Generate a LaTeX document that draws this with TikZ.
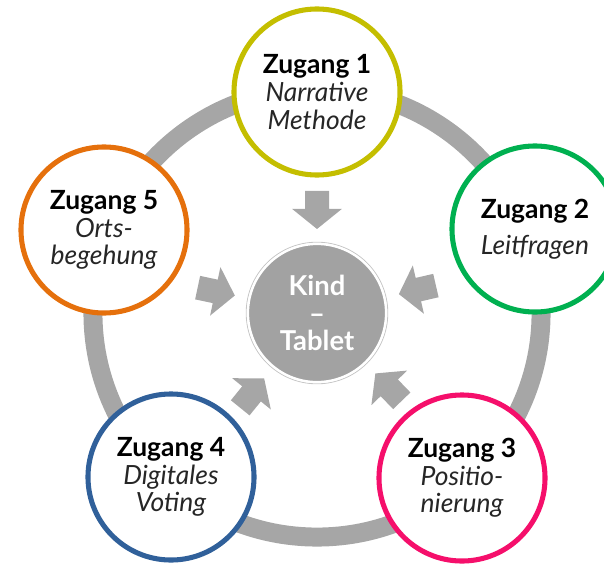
\documentclass[tikz,border=0pt]{standalone}
\usepackage{fontspec}
\setmainfont{Lato}
\usetikzlibrary{calc}
\definecolor{ringgrau}{HTML}{A6A6A6}
\definecolor{kerngrau}{HTML}{A2A2A2}
\definecolor{zgelb}{HTML}{C4BE00}
\definecolor{zgruen}{HTML}{00B050}
\definecolor{zpink}{HTML}{F50F6B}
\definecolor{zblau}{HTML}{30609A}
\definecolor{zorange}{HTML}{E5700C}
\definecolor{textgrau}{HTML}{262626}

\begin{document}
\begin{tikzpicture}[x=0.025cm,y=-0.025cm,
  zugang/.style={circle,line width=3.6pt,fill=white,minimum size=4.15cm,inner sep=0pt,align=center,font=\fontsize{18.8}{19.6}\selectfont},
  kern/.style={circle,fill=kerngrau,draw=white,line width=1.6pt,minimum size=3.45cm,inner sep=0pt,align=center,text=white,font=\bfseries\fontsize{19.5}{19.5}\selectfont}]
  \useasboundingbox (0,0) rectangle (604,565);
  \coordinate (M) at (317,313);
  \coordinate (A) at (317,92);
  \coordinate (B) at (535,229);
  \coordinate (C) at (462,478);
  \coordinate (D) at (171,477);
  \coordinate (E) at (104,230);
  \draw[ringgrau,line width=13.5pt] (M) circle[radius=5.6cm];
  % Pfeile zur Mitte
  \foreach \w in {90,13,-46,-129,168}{
    \fill[ringgrau,shift={(M)},rotate=\w] (2.1cm,0cm) -- (2.6cm,0.62cm) -- (2.6cm,0.3cm) -- (3.05cm,0.3cm)
      -- (3.05cm,-0.3cm) -- (2.6cm,-0.3cm) -- (2.6cm,-0.62cm) -- cycle;
  }
  \draw[gray!45,line width=0.6pt] (M) circle[radius=1.77cm];
  \node[kern] (kind) at (M) {Kind\\--\\Tablet};
  \node[zugang,draw=zgelb] (z1) at (A) {\textbf{Zugang 1}\\\textcolor{textgrau}{\itshape Narrative}\\\textcolor{textgrau}{\itshape Methode}};
  \node[zugang,draw=zgruen] (z2) at (B) {\textbf{Zugang 2}\\[6pt]\textcolor{textgrau}{\itshape Leitfragen}};
  \node[zugang,draw=zpink] (z3) at (C) {\textbf{Zugang 3}\\\textcolor{textgrau}{\itshape Positio-}\\\textcolor{textgrau}{\itshape nierung}};
  \node[zugang,draw=zblau] (z4) at (D) {\textbf{Zugang 4}\\\textcolor{textgrau}{\itshape Digitales}\\\textcolor{textgrau}{\itshape Voting}};
  \node[zugang,draw=zorange] (z5) at (E) {\textbf{Zugang 5}\\\textcolor{textgrau}{\itshape Orts-}\\\textcolor{textgrau}{\itshape begehung}};
\end{tikzpicture}
\end{document}
